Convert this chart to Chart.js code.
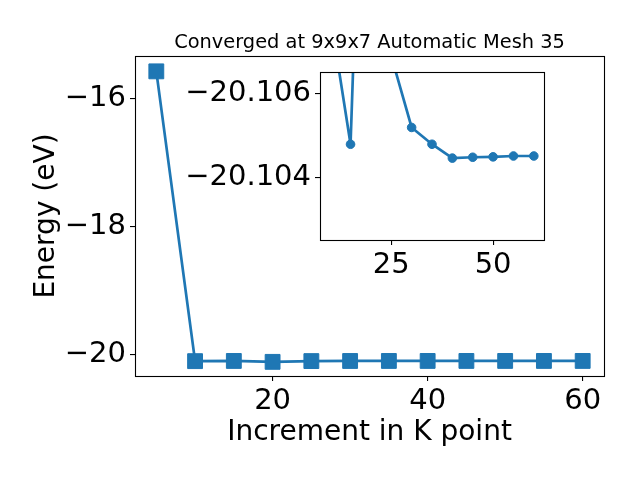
<!DOCTYPE html>
<html>
<head>
<meta charset="utf-8">
<script src="https://cdn.jsdelivr.net/npm/chart.js@4/dist/chart.umd.min.js"></script>
<style>
  html, body { margin: 0; padding: 0; background: #fff; }
  #wrap { position: relative; width: 640px; height: 480px; }
  #main { position: absolute; left: 0; top: 0; }
  #inset { position: absolute; left: 160px; top: 40px; }
</style>
</head>
<body>
<div id="wrap">
  <canvas id="main" width="640" height="480"></canvas>
  <canvas id="inset" width="420" height="250"></canvas>
</div>
<script>
// ---- data ----
const kpoints = [5, 10, 15, 20, 25, 30, 35, 40, 45, 50, 55, 60];
const energy = [-15.58, -20.1079, -20.1048, -20.119, -20.1069, -20.1052, -20.1048, -20.10447, -20.10449, -20.1045, -20.10452, -20.10452];
const mainXTicks = [20, 40, 60];
const mainYTicks = [-20, -18, -16];
const insetXTicks = [25, 50];
const insetYTicks = [-20.106, -20.104];
const titleText = 'Converged at 9x9x7 Automatic Mesh 35';
const xLabel = 'Increment in K point';
const yLabel = 'Energy (eV)';

const BLUE = '#1f77b4';
const FONT = "'DejaVu Sans', sans-serif";
Chart.defaults.font.family = FONT;
Chart.defaults.color = '#000';
Chart.defaults.animation = false;

const minus = v => String(v).replace('-', '\u2212');

const mainPts = kpoints.map((k, i) => ({x: k, y: energy[i]}));
const insetPts = kpoints.slice(1).map((k, i) => ({x: k, y: energy[i + 1]}));

const framePlugin = {
  id: 'frame',
  beforeDraw(chart) {
    const a = chart.chartArea, c = chart.ctx;
    c.save(); c.fillStyle = '#fff';
    c.fillRect(a.left, a.top, a.right - a.left, a.bottom - a.top);
    c.restore();
  },
  afterDraw(chart) {
    const a = chart.chartArea, c = chart.ctx;
    c.save(); c.strokeStyle = '#000'; c.lineWidth = 1.1;
    c.strokeRect(Math.round(a.left) + 0.5, Math.round(a.top) + 0.5,
                 Math.round(a.right - a.left), Math.round(a.bottom - a.top));
    c.restore();
  }
};

const titlePlugin = {
  id: 'mtitle',
  afterDraw(chart) {
    const a = chart.chartArea, c = chart.ctx;
    c.save();
    c.font = '19.4px ' + FONT;
    c.fillStyle = '#000';
    c.textAlign = 'center';
    c.textBaseline = 'alphabetic';
    c.fillText(titleText, (a.left + a.right) / 2, 48);
    c.restore();
  }
};

function tickOpts(size, pad) {
  return {
    font: {size: size},
    padding: pad,
    autoSkip: false,
    maxRotation: 0,
    callback: v => minus(v)
  };
}
const gridOpts = {drawOnChartArea: false, drawTicks: true, tickLength: 5, color: '#000', lineWidth: 1.1};

new Chart(document.getElementById('main'), {
  type: 'line',
  data: {datasets: [{
    data: mainPts,
    borderColor: BLUE, backgroundColor: BLUE, borderWidth: 2.7,
    pointStyle: 'rect', pointRadius: 10.5, pointBorderWidth: 1,
    pointBorderColor: BLUE, pointBackgroundColor: BLUE, tension: 0
  }]},
  options: {
    responsive: false,
    layout: {padding: {left: 0, right: 36, top: 56, bottom: 0}},
    plugins: {legend: {display: false}, tooltip: {enabled: false}},
    scales: {
      x: {
        type: 'linear', min: 2.25, max: 62.75,
        grid: gridOpts, border: {display: false},
        ticks: tickOpts(29, 3),
        afterBuildTicks: s => { s.ticks = mainXTicks.map(v => ({value: v})); },
        afterFit: s => { s.height = 104; },
        title: {display: true, text: xLabel, font: {size: 28}, padding: {top: 0, bottom: 30}}
      },
      y: {
        type: 'linear', min: -20.34, max: -15.34,
        grid: gridOpts, border: {display: false},
        ticks: tickOpts(29, 4),
        afterBuildTicks: s => { s.ticks = mainYTicks.map(v => ({value: v})); },
        afterFit: s => { s.width = 135; },
        title: {display: true, text: yLabel, font: {size: 28}, padding: {top: 30, bottom: 0}}
      }
    }
  },
  plugins: [framePlugin, titlePlugin]
});

new Chart(document.getElementById('inset'), {
  type: 'line',
  data: {datasets: [{
    data: insetPts,
    borderColor: BLUE, backgroundColor: BLUE, borderWidth: 2.7,
    pointStyle: 'circle', pointRadius: 4.3, pointBorderWidth: 1,
    pointBorderColor: BLUE, pointBackgroundColor: BLUE, tension: 0,
    clip: 0
  }]},
  options: {
    responsive: false,
    layout: {padding: {left: 0, right: 36, top: 32, bottom: 0}},
    plugins: {legend: {display: false}, tooltip: {enabled: false}},
    scales: {
      x: {
        type: 'linear', min: 7.5, max: 62.5,
        grid: gridOpts, border: {display: false},
        ticks: tickOpts(29, 3),
        afterBuildTicks: s => { s.ticks = insetXTicks.map(v => ({value: v})); },
        afterFit: s => { s.height = 50; }
      },
      y: {
        type: 'linear', min: -20.10652, max: -20.10252, reverse: true,
        grid: gridOpts, border: {display: false},
        ticks: Object.assign(tickOpts(29, 4), {callback: v => minus(Number(v).toFixed(3))}),
        afterBuildTicks: s => { s.ticks = insetYTicks.map(v => ({value: v})); },
        afterFit: s => { s.width = 160; }
      }
    }
  },
  plugins: [framePlugin]
});
</script>
</body>
</html>
